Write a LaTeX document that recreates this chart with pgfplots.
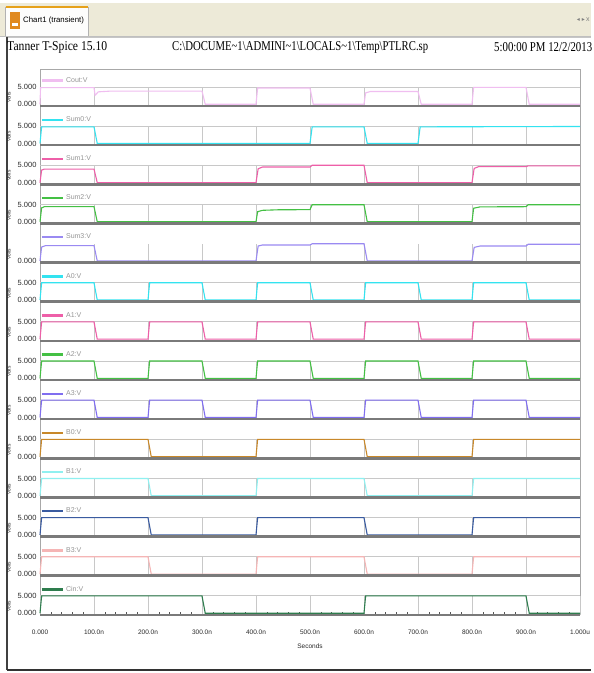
\documentclass[border=0pt]{standalone}
\usepackage{fontspec}
\setmainfont{Liberation Sans}
\newfontfamily\hdrfont{Liberation Serif}
\newfontfamily\symfont{DejaVu Sans}
\usepackage{graphicx}
\usepackage{pgfplots}
\pgfplotsset{compat=1.18}

\definecolor{gridgray}{HTML}{C8C8C8}
\definecolor{axisgray}{HTML}{7A7A7A}
\definecolor{boxgray}{HTML}{A8A8A8}
\definecolor{legendgray}{HTML}{959595}
\definecolor{ticktext}{HTML}{2A2A2A}
\definecolor{tabbeige}{HTML}{EDEAD8}
\definecolor{iconorange}{HTML}{E08A20}
\definecolor{cCout}{HTML}{F0BEF0}
\definecolor{cCyan}{HTML}{33E3F0}
\definecolor{cPink}{HTML}{EE5FA8}
\definecolor{cGreen}{HTML}{44C044}
\definecolor{cSum3}{HTML}{9A8AF2}
\definecolor{cA3}{HTML}{806EF0}
\definecolor{cB0}{HTML}{C8882A}
\definecolor{cB1}{HTML}{8FF0F0}
\definecolor{cB2}{HTML}{3A5BA0}
\definecolor{cB3}{HTML}{F5B5B5}
\definecolor{cCin}{HTML}{2E7D4E}

\pgfplotsset{
 panel/.style={
  anchor=south west, width=540pt, height=19pt, scale only axis,
  xmin=0, xmax=1000, ymin=-0.5, ymax=5,
  axis line style={draw=none},
  xtick={100,200,...,900}, xticklabels={},
  xmajorgrids, ymajorgrids,
  grid style={color=gridgray, line width=0.9pt},
  ytick={5}, yticklabels={5.000},
  extra y ticks={0}, extra y tick labels={0.000}, extra y tick style={grid=none},
  major tick length=0pt, minor tick length=0pt,
  yticklabel style={font=\fontsize{7.5}{8}\selectfont, text=ticktext},
  clip=false,
  legend style={at={(rel axis cs:0,1)}, anchor=south west, yshift=0.5pt,
    draw=none, fill=none, inner sep=0.5pt,
    font=\fontsize{7}{7.5}\selectfont, text=legendgray},
  legend cell align=left,
  legend image code/.code={\draw[#1, line width=2.4pt] (0pt,0pt) -- (21pt,0pt);},
  every axis plot/.append style={line width=1.1pt, mark=none},
  after end axis/.code={
    \draw[axisgray, line width=2.6pt] (rel axis cs:0,0) -- (rel axis cs:1,0);
    \node[xshift=-31pt, rotate=90, inner sep=0pt, font=\fontsize{4.8}{5}\selectfont, text=ticktext] at (rel axis cs:0,0.45) {Volts};
  },
 },
}

\begin{document}
\begin{tikzpicture}
\begin{scope}[x=1pt,y=1pt]
\useasboundingbox (0,0) rectangle (591,673);
\fill[white] (0,0) rectangle (591,673);
% tab bar
\fill[tabbeige] (0,637) rectangle (591,670);
\fill[white!92!tabbeige] (5,637) rectangle (88,666);
\draw[gray!60] (5,637) -- (5,666) -- (88,666) -- (88,637);
\draw[iconorange!80!yellow, line width=1.5pt] (5.5,666) -- (87.5,666);
\fill[iconorange] (10,644) rectangle (20,661);
\fill[white] (12,647) rectangle (18,650);
\node[anchor=west, inner sep=0, font=\fontsize{7.8}{8}\selectfont] at (23,653) {Chart1 (transient)};
\draw[gray!50] (0,637) -- (591,637);
\node[anchor=east, inner sep=0, font=\symfont\fontsize{6}{6}\selectfont, text=gray] at (585,653) {◂ ▸};
\node[anchor=west, inner sep=0, font=\fontsize{7}{7}\selectfont, text=gray] at (586,653) {x};
% window frame
\draw[gray!45] (7,636) -- (591,636);
\draw[black!75, line width=1.5pt] (7,636) -- (7,3);
\draw[black!80, line width=2pt] (7,3) -- (591,3);
% header
\node[anchor=west, inner sep=0] at (7,626) {\resizebox{100pt}{\height}{\hdrfont\fontsize{13.5}{13.5}\selectfont Tanner T-Spice 15.10}};
\node[anchor=west, inner sep=0] at (172,626) {\resizebox{256pt}{\height}{\hdrfont\fontsize{13.5}{13.5}\selectfont C:\textbackslash DOCUME\textasciitilde 1\textbackslash ADMINI\textasciitilde 1\textbackslash LOCALS\textasciitilde 1\textbackslash Temp\textbackslash PTLRC.sp}};
\node[anchor=west, inner sep=0] at (494,626) {\resizebox{98pt}{\height}{\hdrfont\fontsize{13.5}{13.5}\selectfont 5:00:00 PM 12/2/2013}};
% chart box
\draw[boxgray, line width=1pt] (40,603) rectangle (580,58.05);
\end{scope}

% Cout
\begin{axis}[panel, at={(40pt,567pt)}]
\addplot[cCout] coordinates {(0,0)(1,4.8)(100,4.8)(102,2.6)(108,3.6)(130,3.8)(300,3.8)(306,0)(400,0)(403,4.7)(500,4.7)(506,0)(600,0)(603,3.3)(612,3.7)(700,3.7)(706,0)(800,0)(803,4.9)(900,4.9)(906,0)(1000,0)};
\legend{Cout:V}
\end{axis}
% Sum0
\begin{axis}[panel, at={(40pt,527.85pt)}]
\addplot[cCyan] coordinates {(0,0)(3,4.8)(100,4.8)(106,0)(500,0)(504,4.8)(600,4.8)(606,0)(700,0)(704,4.8)(1000,4.9)};
\legend{Sum0:V}
\end{axis}
% Sum1
\begin{axis}[panel, at={(40pt,488.7pt)}]
\addplot[cPink] coordinates {(0,0)(3,3.6)(8,3.9)(100,3.9)(106,0)(400,0)(404,4.0)(412,4.5)(500,4.5)(504,5)(600,5)(606,0)(800,0)(804,4.1)(812,4.6)(900,4.6)(904,4.85)(1000,4.85)};
\legend{Sum1:V}
\end{axis}
% Sum2
\begin{axis}[panel, at={(40pt,449.55pt)}]
\addplot[cGreen] coordinates {(0,0)(3,4.0)(8,4.35)(100,4.35)(106,0)(400,0)(403,2.9)(412,3.3)(440,3.45)(500,3.5)(504,4.9)(600,4.9)(606,0)(800,0)(803,3.9)(815,4.3)(900,4.35)(904,4.9)(1000,4.9)};
\legend{Sum2:V}
\end{axis}
% Sum3
\begin{axis}[panel, at={(40pt,410.4pt)}, ytick=\empty, ymajorgrids=false]
\addplot[cSum3] coordinates {(0,0)(3,4.0)(10,4.4)(100,4.4)(106,0)(400,0)(404,4.3)(412,4.6)(500,4.6)(504,4.95)(600,4.95)(606,0)(800,0)(804,3.9)(815,4.3)(900,4.3)(904,4.8)(1000,4.8)};
\legend{Sum3:V}
\end{axis}
% A0
\begin{axis}[panel, at={(40pt,371.25pt)}]
\addplot[cCyan] coordinates {(0,0)(3,5)(100,5)(106,0)(200,0)(203,5)(300,5)(306,0)(400,0)(403,5)(500,5)(506,0)(600,0)(603,5)(700,5)(706,0)(800,0)(803,5)(900,5)(906,0)(1000,0)};
\legend{A0:V}
\end{axis}
% A1
\begin{axis}[panel, at={(40pt,332.1pt)}]
\addplot[cPink] coordinates {(0,0)(3,5)(100,5)(106,0)(200,0)(203,5)(300,5)(306,0)(400,0)(403,5)(500,5)(506,0)(600,0)(603,5)(700,5)(706,0)(800,0)(803,5)(900,5)(906,0)(1000,0)};
\legend{A1:V}
\end{axis}
% A2
\begin{axis}[panel, at={(40pt,292.95pt)}]
\addplot[cGreen] coordinates {(0,0)(3,5)(100,5)(106,0)(200,0)(203,5)(300,5)(306,0)(400,0)(403,5)(500,5)(506,0)(600,0)(603,5)(700,5)(706,0)(800,0)(803,5)(900,5)(906,0)(1000,0)};
\legend{A2:V}
\end{axis}
% A3
\begin{axis}[panel, at={(40pt,253.8pt)}]
\addplot[cA3] coordinates {(0,0)(3,5)(100,5)(106,0)(200,0)(203,5)(300,5)(306,0)(400,0)(403,5)(500,5)(506,0)(600,0)(603,5)(700,5)(706,0)(800,0)(803,5)(900,5)(906,0)(1000,0)};
\legend{A3:V}
\end{axis}
% B0
\begin{axis}[panel, at={(40pt,214.65pt)}]
\addplot[cB0] coordinates {(0,0)(3,5)(200,5)(206,0)(400,0)(403,5)(600,5)(606,0)(800,0)(803,5)(1000,5)};
\legend{B0:V}
\end{axis}
% B1
\begin{axis}[panel, at={(40pt,175.5pt)}]
\addplot[cB1] coordinates {(0,0)(3,5)(200,5)(206,0)(400,0)(403,5)(600,5)(606,0)(800,0)(803,5)(1000,5)};
\legend{B1:V}
\end{axis}
% B2
\begin{axis}[panel, at={(40pt,136.35pt)}]
\addplot[cB2] coordinates {(0,0)(3,5)(200,5)(206,0)(400,0)(403,5)(600,5)(606,0)(800,0)(803,5)(1000,5)};
\legend{B2:V}
\end{axis}
% B3
\begin{axis}[panel, at={(40pt,97.2pt)}]
\addplot[cB3] coordinates {(0,0)(3,5)(200,5)(206,0)(400,0)(403,5)(600,5)(606,0)(800,0)(803,5)(1000,5)};
\legend{B3:V}
\end{axis}
% Cin
\begin{axis}[panel, at={(40pt,58.05pt)},
  xtick={0,100,...,1000},
  xticklabels={0.000,100.0n,200.0n,300.0n,400.0n,500.0n,600.0n,700.0n,800.0n,900.0n,1.000u},
  xticklabel style={font=\fontsize{6.5}{7}\selectfont, text=ticktext, yshift=-11pt},
  minor x tick num=4, minor tick length=3pt, tick align=inside, xtick pos=bottom,
  every minor tick/.append style={ticktext!80, line width=0.5pt},
  xlabel={Seconds}, xlabel style={font=\fontsize{6.5}{7}\selectfont, text=ticktext, yshift=-3pt}]
\addplot[cCin] coordinates {(0,0)(3,5)(300,5)(306,0)(600,0)(603,5)(900,5)(906,0)(1000,0)};
\legend{Cin:V}
\end{axis}
\end{tikzpicture}
\end{document}
